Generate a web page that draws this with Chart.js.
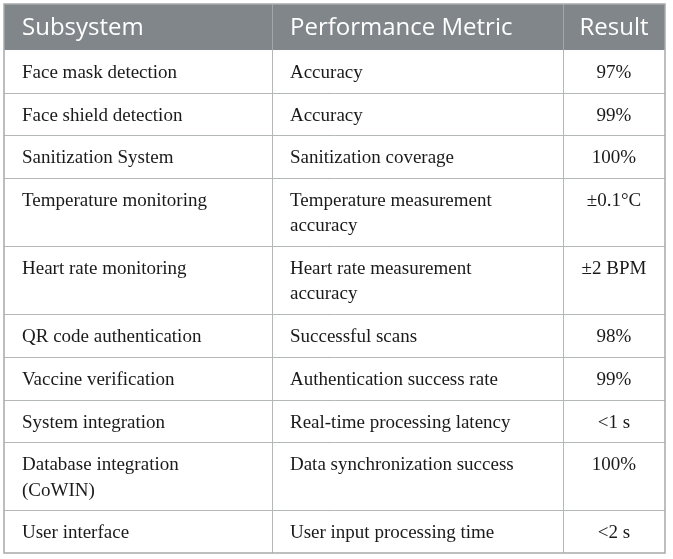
<!DOCTYPE html>
<html>
<head>
<meta charset="utf-8">
<script src="https://cdn.jsdelivr.net/npm/chart.js@4"></script>
<style>
  html, body { margin: 0; padding: 0; background: #fff; }
  #wrap { width: 673px; height: 559px; position: relative; }
</style>
</head>
<body>
<div id="wrap"><canvas id="tableChart"></canvas></div>
<script>
// table content
const columns = ["Subsystem", "Performance Metric", "Result"];
const subsystems = [
  "Face mask detection",
  "Face shield detection",
  "Sanitization System",
  "Temperature monitoring",
  "Heart rate monitoring",
  "QR code authentication",
  "Vaccine verification",
  "System integration",
  "Database integration\n(CoWIN)",
  "User interface"
];
const metrics = [
  "Accuracy",
  "Accuracy",
  "Sanitization coverage",
  "Temperature measurement\naccuracy",
  "Heart rate measurement\naccuracy",
  "Successful scans",
  "Authentication success rate",
  "Real-time processing latency",
  "Data synchronization success",
  "User input processing time"
];
const results = ["97%", "99%", "100%", "\u00b10.1\u00b0C", "\u00b12 BPM", "98%", "99%", "<1 s", "100%", "<2 s"];

// layout (in y-scale units)
const headerH = 46;
const rowPad = 17.4;
const lineH = 25.3;
const firstLine = 23;
// column edges as fraction of table width
const colEdges = [0, 0.4054, 0.8457, 1];
const cellPad = 18;

const cols = [subsystems, metrics, results];
const rowTops = [];
let acc = headerH;
for (let i = 0; i < subsystems.length; i++) {
  rowTops.push(acc);
  const n = Math.max(...cols.map(c => c[i].split("\n").length));
  acc += rowPad + n * lineH;
}
const totalH = acc;

function colPoints(c) {
  return cols[c].map((t, i) => ({
    x: c === 2 ? (colEdges[2] + colEdges[3]) / 2 : colEdges[c],
    y: rowTops[i] + firstLine,
    text: t
  }));
}

const tablePlugin = {
  id: "tablePlugin",
  beforeDatasetsDraw(chart) {
    const ctx = chart.ctx;
    const xs = chart.scales.x, ys = chart.scales.y;
    const L = xs.getPixelForValue(0), R = xs.getPixelForValue(1);
    const T = ys.getPixelForValue(0), B = ys.getPixelForValue(totalH);
    const hB = ys.getPixelForValue(headerH);
    ctx.save();
    ctx.fillStyle = "#80868a";
    ctx.fillRect(L, T, R - L, hB - T);
    // header text
    ctx.fillStyle = "#ffffff";
    ctx.font = "24px 'Open Sans'";
    ctx.textBaseline = "middle";
    const hy = (T + hB) / 2 + 1;
    ctx.textAlign = "left";
    ctx.fillText(columns[0], xs.getPixelForValue(colEdges[0]) + cellPad, hy);
    ctx.fillText(columns[1], xs.getPixelForValue(colEdges[1]) + cellPad, hy);
    ctx.textAlign = "center";
    ctx.fillText(columns[2], xs.getPixelForValue((colEdges[2] + colEdges[3]) / 2), hy);
    // grid lines
    ctx.strokeStyle = "#b3b7b6";
    ctx.lineWidth = 1;
    rowTops.forEach((v, i) => {
      if (i === 0) return;
      const y = Math.round(ys.getPixelForValue(v)) + 0.5;
      ctx.beginPath(); ctx.moveTo(L, y); ctx.lineTo(R, y); ctx.stroke();
    });
    [colEdges[1], colEdges[2]].forEach(v => {
      const x = Math.round(xs.getPixelForValue(v)) + 0.5;
      ctx.strokeStyle = "#b3b7b6";
      ctx.beginPath(); ctx.moveTo(x, hB); ctx.lineTo(x, B); ctx.stroke();
      ctx.strokeStyle = "#a2a7a9";
      ctx.beginPath(); ctx.moveTo(x, T); ctx.lineTo(x, hB); ctx.stroke();
    });
    ctx.strokeStyle = "#a6aaa9";
    ctx.lineWidth = 1.5;
    ctx.strokeRect(L, T, R - L, B - T);
    ctx.restore();
  },
  afterDatasetsDraw(chart) {
    const ctx = chart.ctx;
    const ys = chart.scales.y;
    const step = ys.getPixelForValue(lineH) - ys.getPixelForValue(0);
    ctx.save();
    ctx.fillStyle = "#1a1a1a";
    ctx.font = "19px 'Liberation Serif'";
    ctx.textBaseline = "middle";
    chart.data.datasets.forEach((ds, c) => {
      const meta = chart.getDatasetMeta(c);
      ctx.textAlign = c === 2 ? "center" : "left";
      meta.data.forEach((el, i) => {
        const lines = ds.data[i].text.split("\n");
        lines.forEach((ln, k) => {
          ctx.fillText(ln, el.x + (c === 2 ? 0 : cellPad), el.y + k * step);
        });
      });
    });
    ctx.restore();
  }
};

new Chart("tableChart", {
  type: "scatter",
  data: {
    datasets: columns.map((name, c) => ({
      label: name,
      data: colPoints(c),
      pointRadius: 0,
      pointHoverRadius: 0
    }))
  },
  options: {
    responsive: true,
    maintainAspectRatio: false,
    animation: false,
    events: [],
    layout: { padding: { left: 4, top: 4, right: 8, bottom: 6 } },
    plugins: { legend: { display: false }, tooltip: { enabled: false } },
    scales: {
      x: { type: "linear", min: 0, max: 1, display: false },
      y: { type: "linear", min: 0, max: totalH, reverse: true, display: false }
    }
  },
  plugins: [tablePlugin]
});
</script>
</body>
</html>
